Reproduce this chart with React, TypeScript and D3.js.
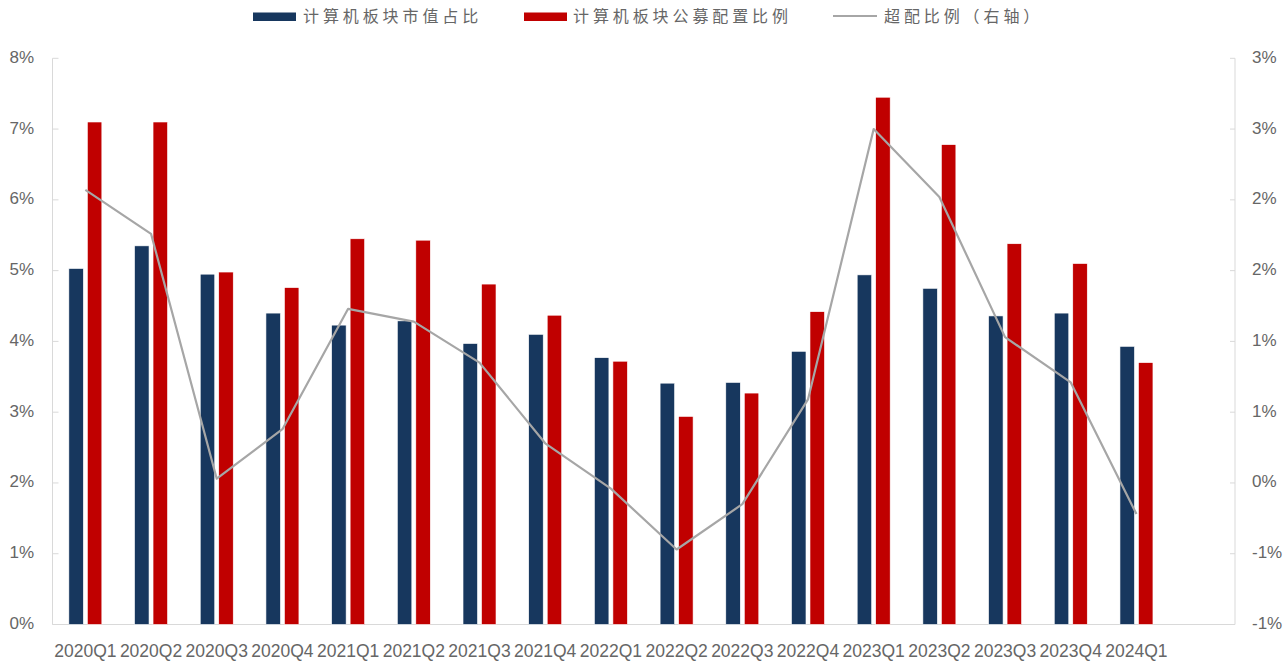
import React from "react";
import * as d3 from "d3";

const categories = [
  "2020Q1", "2020Q2", "2020Q3", "2020Q4",
  "2021Q1", "2021Q2", "2021Q3", "2021Q4",
  "2022Q1", "2022Q2", "2022Q3", "2022Q4",
  "2023Q1", "2023Q2", "2023Q3", "2023Q4",
  "2024Q1", "",
];
const marketShare = [5.03, 5.35, 4.95, 4.40, 4.23, 4.29, 3.97, 4.10, 3.77, 3.41, 3.42, 3.86, 4.94, 4.75, 4.36, 4.40, 3.93];
const fundAlloc = [7.10, 7.10, 4.98, 4.76, 5.45, 5.43, 4.81, 4.37, 3.72, 2.94, 3.27, 4.42, 7.45, 6.78, 5.38, 5.10, 3.70];
const overweight = [2.07, 1.76, 0.03, 0.38, 1.23, 1.14, 0.85, 0.28, -0.04, -0.47, -0.15, 0.59, 2.50, 2.02, 1.03, 0.71, -0.22];
const leftTicks = [0, 1, 2, 3, 4, 5, 6, 7, 8];
const leftTickLabels = ["0%", "1%", "2%", "3%", "4%", "5%", "6%", "7%", "8%"];
const rightTicks = [-1, -0.5, 0, 0.5, 1, 1.5, 2, 2.5, 3];
const rightTickLabels = ["-1%", "-1%", "0%", "1%", "1%", "2%", "2%", "3%", "3%"];
const seriesNames = ["计算机板块市值占比", "计算机板块公募配置比例", "超配比例（右轴）"];
const seriesKeys = ["share", "alloc"];

const W = 1288;
const H = 663;
const X0 = 52.5;
const X1 = 1235;
const Y0 = 624.5;
const Y1 = 58.3;
const BLUE = "#17375e";
const RED = "#c00000";
const GRAY = "#a6a6a6";
const AXIS = "#d9d9d9";
const TEXT = "#666666";

export default function App() {
  const x = d3.scaleBand<string>().domain(categories.map((c, i) => c + "_" + i)).range([X0, X1]).paddingInner(0).paddingOuter(0);
  const bw = x.bandwidth();
  const xs = d3.scaleBand<string>().domain(seriesKeys).range([0, bw]).paddingInner(0.216).paddingOuter(0.884);
  const yL = d3.scaleLinear().domain([0, 8]).range([Y0, Y1]);
  const yR = d3.scaleLinear().domain([-1, 3]).range([Y0, Y1]);
  const key = (i: number) => categories[i] + "_" + i;
  const cx = (i: number) => (x(key(i)) as number) + bw / 2;

  const line = d3
    .line<number>()
    .x((_, i) => cx(i))
    .y((d) => yR(d));

  const fontLatin = "Arial, 'Liberation Sans', sans-serif";
  const fontCJK = "'Noto Sans CJK SC', sans-serif";

  return (
    <svg width={W} height={H} style={{ position: "absolute", left: 0, top: 0, background: "#fff" }}>
      {/* axes */}
      <line x1={X0} x2={X0} y1={Y1} y2={Y0} stroke={AXIS} strokeWidth={1} />
      <line x1={X1} x2={X1} y1={Y1} y2={Y0} stroke={AXIS} strokeWidth={1} />
      <line x1={X0} x2={X1} y1={Y0} y2={Y0} stroke={AXIS} strokeWidth={1} />
      {leftTicks.map((t, i) => (
        <g key={"lt" + i}>
          <line x1={X0} x2={X0 + 6} y1={yL(t)} y2={yL(t)} stroke={AXIS} />
          <text x={34} y={yL(t)} textAnchor="end" dominantBaseline="middle" fontFamily={fontLatin} fontSize={17} fill={TEXT}>
            {leftTickLabels[i]}
          </text>
        </g>
      ))}
      {rightTicks.map((t, i) => (
        <g key={"rt" + i}>
          <line x1={X1 - 5} x2={X1} y1={yR(t)} y2={yR(t)} stroke={AXIS} />
          <text x={1252} y={yR(t)} textAnchor="start" dominantBaseline="middle" fontFamily={fontLatin} fontSize={17} fill={TEXT}>
            {rightTickLabels[i]}
          </text>
        </g>
      ))}
      {categories.map((c, i) => (
        <text key={"c" + i} x={cx(i)} y={652} textAnchor="middle" dominantBaseline="middle" fontFamily={fontLatin} fontSize={17.5} fill={TEXT}>
          {c}
        </text>
      ))}
      {/* bars */}
      {marketShare.map((v, i) => (
        <rect
          key={"b" + i}
          x={(x(key(i)) as number) + (xs("share") as number)}
          y={yL(v)}
          width={xs.bandwidth()}
          height={Y0 - yL(v)}
          fill={BLUE}
          stroke="#fff"
          strokeWidth={0.6}
        />
      ))}
      {fundAlloc.map((v, i) => (
        <rect
          key={"r" + i}
          x={(x(key(i)) as number) + (xs("alloc") as number)}
          y={yL(v)}
          width={xs.bandwidth()}
          height={Y0 - yL(v)}
          fill={RED}
          stroke="#fff"
          strokeWidth={0.6}
        />
      ))}
      {/* line */}
      <path d={line(overweight) || ""} fill="none" stroke={GRAY} strokeWidth={2.2} strokeLinejoin="round" />
      {/* legend */}
      <rect x={253} y={12.5} width={43} height={8.5} fill={BLUE} />
      <text x={303} y={17.5} dominantBaseline="middle" fontFamily={fontCJK} fontSize={16} letterSpacing={3.9} fill={TEXT}>
        {seriesNames[0]}
      </text>
      <rect x={524} y={12.5} width={43} height={8.5} fill={RED} />
      <text x={573} y={17.5} dominantBaseline="middle" fontFamily={fontCJK} fontSize={16} letterSpacing={3.9} fill={TEXT}>
        {seriesNames[1]}
      </text>
      <line x1={833} x2={877} y1={16} y2={16} stroke={GRAY} strokeWidth={2} />
      <text x={884} y={17.5} dominantBaseline="middle" fontFamily={fontCJK} fontSize={16} letterSpacing={3.9} fill={TEXT}>
        {seriesNames[2]}
      </text>
    </svg>
  );
}
